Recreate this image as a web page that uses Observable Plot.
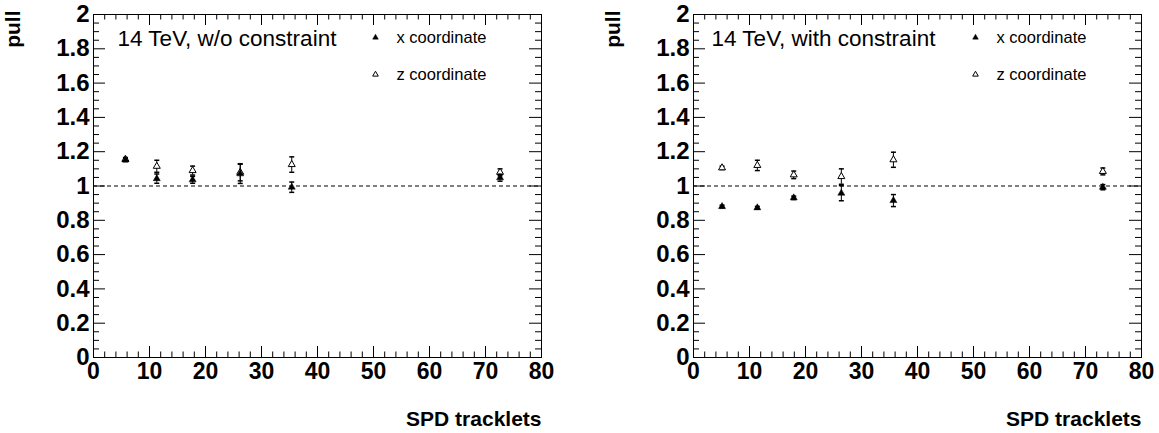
<!DOCTYPE html>
<html><head><meta charset="utf-8">
<script src="https://cdn.jsdelivr.net/npm/d3@7"></script>
<script src="https://cdn.jsdelivr.net/npm/@observablehq/plot@0.6"></script>
<style>
html,body{margin:0;padding:0;background:#fff;}
#wrap{display:flex;width:1159px;height:433px;overflow:hidden;}
</style></head><body><div id="wrap"></div>
<script>
// tick labels
const xTicks = [0, 10, 20, 30, 40, 50, 60, 70, 80];
const yTicks = [0, 0.2, 0.4, 0.6, 0.8, 1, 1.2, 1.4, 1.6, 1.8, 2];
const xMinorTicks = [2,4,6,8,12,14,16,18,22,24,26,28,32,34,36,38,42,44,46,48,52,54,56,58,62,64,66,68,72,74,76,78];
const yMinorTicks = [0.05,0.1,0.15,0.25,0.3,0.35,0.45,0.5,0.55,0.65,0.7,0.75,0.85,0.9,0.95,1.05,1.1,1.15,1.25,1.3,1.35,1.45,1.5,1.55,1.65,1.7,1.75,1.85,1.9,1.95];
const seriesNames = ["x coordinate", "z coordinate"];

// left panel: 14 TeV, w/o constraint
const trackletsL = [5.7, 11.3, 17.7, 26.2, 35.4, 72.6];
const pullXL = [1.152, 1.043, 1.036, 1.071, 0.993, 1.048];
const errXL  = [0.010, 0.027, 0.020, 0.056, 0.030, 0.020];
const pullZL = [1.156, 1.115, 1.090, 1.080, 1.125, 1.080];
const errZL  = [0.010, 0.035, 0.026, 0.050, 0.045, 0.020];

// right panel: 14 TeV, with constraint
const trackletsR = [5.1, 11.4, 17.9, 26.4, 35.7, 73.1];
const pullXR = [0.880, 0.873, 0.931, 0.958, 0.915, 0.993];
const errXR  = [0.008, 0.008, 0.010, 0.044, 0.035, 0.015];
const pullZR = [1.106, 1.120, 1.065, 1.055, 1.153, 1.085];
const errZR  = [0.010, 0.030, 0.022, 0.045, 0.044, 0.020];

const FONT = "'Liberation Sans', Arial, Helvetica, sans-serif";
const capSymbol = { draw(ctx) { ctx.moveTo(-2.5, 0); ctx.lineTo(2.5, 0); } };
const fmt = d => String(+d.toFixed(1));

function label(str, opts) {
  return Plot.text([str], {x: null, y: null, text: d => d, frameAnchor: "top-left", lineAnchor: "middle", fill: "black", ...opts});
}

function panel({width, title, titleDx, xs, px, ex, pz, ez}) {
  const mt = 14, mb = 76, ml = 93, mr = width - 93 - 448;
  const fh = 433 - mt - mb, fw = width - ml - mr;
  const rows = xs.map((x, i) => ({x, px: px[i], ex: ex[i], pz: pz[i], ez: ez[i]}));
  return Plot.plot({
    width, height: 433,
    marginTop: mt, marginBottom: mb, marginLeft: ml, marginRight: mr,
    style: {fontFamily: FONT, background: "white", color: "black", overflow: "visible"},
    x: {domain: [0, 80]},
    y: {domain: [0, 2]},
    marks: [
      Plot.axisX(xTicks, {tickSize: 0, tickPadding: 5, fontSize: 23, fontWeight: "bold", label: null, tickFormat: d => d}),
      Plot.axisY(yTicks, {tickSize: 0, tickPadding: 4, fontSize: 24, fontWeight: "bold", label: null, tickFormat: fmt}),
      // inward ticks on all four sides
      Plot.tickX(xTicks, {x: d => d, insetTop: fh - 11, stroke: "black"}),
      Plot.tickX(xMinorTicks, {x: d => d, insetTop: fh - 5.5, stroke: "black"}),
      Plot.tickX(xTicks, {x: d => d, insetBottom: fh - 11, stroke: "black"}),
      Plot.tickX(xMinorTicks, {x: d => d, insetBottom: fh - 5.5, stroke: "black"}),
      Plot.tickY(yTicks, {y: d => d, insetRight: fw - 12, stroke: "black"}),
      Plot.tickY(yMinorTicks, {y: d => d, insetRight: fw - 6, stroke: "black"}),
      Plot.tickY(yTicks, {y: d => d, insetLeft: fw - 12, stroke: "black"}),
      Plot.tickY(yMinorTicks, {y: d => d, insetLeft: fw - 6, stroke: "black"}),
      Plot.ruleY([1], {stroke: "black", strokeDasharray: "4,3"}),
      Plot.frame({stroke: "black"}),
      // z coordinate (open)
      Plot.ruleX(rows, {x: "x", y1: d => d.pz - d.ez, y2: d => d.pz + d.ez, stroke: "black"}),
      Plot.dot(rows, {x: "x", y: d => d.pz - d.ez, symbol: capSymbol, stroke: "black", r: 3}),
      Plot.dot(rows, {x: "x", y: d => d.pz + d.ez, symbol: capSymbol, stroke: "black", r: 3}),
      Plot.dot(rows, {x: "x", y: "pz", symbol: "triangle", r: 2.6, fill: "white", stroke: "black", strokeWidth: 1}),
      // x coordinate (filled)
      Plot.ruleX(rows, {x: "x", y1: d => d.px - d.ex, y2: d => d.px + d.ex, stroke: "black"}),
      Plot.dot(rows, {x: "x", y: d => d.px - d.ex, symbol: capSymbol, stroke: "black", r: 3}),
      Plot.dot(rows, {x: "x", y: d => d.px + d.ex, symbol: capSymbol, stroke: "black", r: 3}),
      Plot.dot(rows, {x: "x", y: "px", symbol: "triangle", r: 2.6, fill: "black", stroke: "black", strokeWidth: 0.5}),
      // titles
      Plot.text(["SPD tracklets"], {x: null, y: null, text: d => d, frameAnchor: "bottom-right", dy: 62, textAnchor: "end", lineAnchor: "middle", fontSize: 21, fontWeight: "bold", fill: "black"}),
      label("pull", {dx: -80, dy: -4, rotate: -90, textAnchor: "end", fontSize: 21, fontWeight: "bold"}),
      label(title, {dx: titleDx, dy: 24, textAnchor: "start", fontSize: 22.5}),
      // legend
      Plot.dot([seriesNames[0]], {x: null, y: null, frameAnchor: "top-left", dx: 282, dy: 23, symbol: "triangle", r: 2.1, fill: "black", stroke: "black", strokeWidth: 0.5}),
      Plot.dot([seriesNames[1]], {x: null, y: null, frameAnchor: "top-left", dx: 282, dy: 60, symbol: "triangle", r: 2.1, fill: "white", stroke: "black", strokeWidth: 1}),
      label(seriesNames[0], {dx: 303, dy: 23, textAnchor: "start", fontSize: 16.5}),
      label(seriesNames[1], {dx: 303, dy: 60, textAnchor: "start", fontSize: 16.5})
    ]
  });
}

const wrap = document.getElementById("wrap");
wrap.appendChild(panel({width: 600, title: "14 TeV, w/o constraint", titleDx: 24, xs: trackletsL, px: pullXL, ex: errXL, pz: pullZL, ez: errZL}));
wrap.appendChild(panel({width: 559, title: "14 TeV, with constraint", titleDx: 18, xs: trackletsR, px: pullXR, ex: errXR, pz: pullZR, ez: errZR}));
</script>
</body></html>
